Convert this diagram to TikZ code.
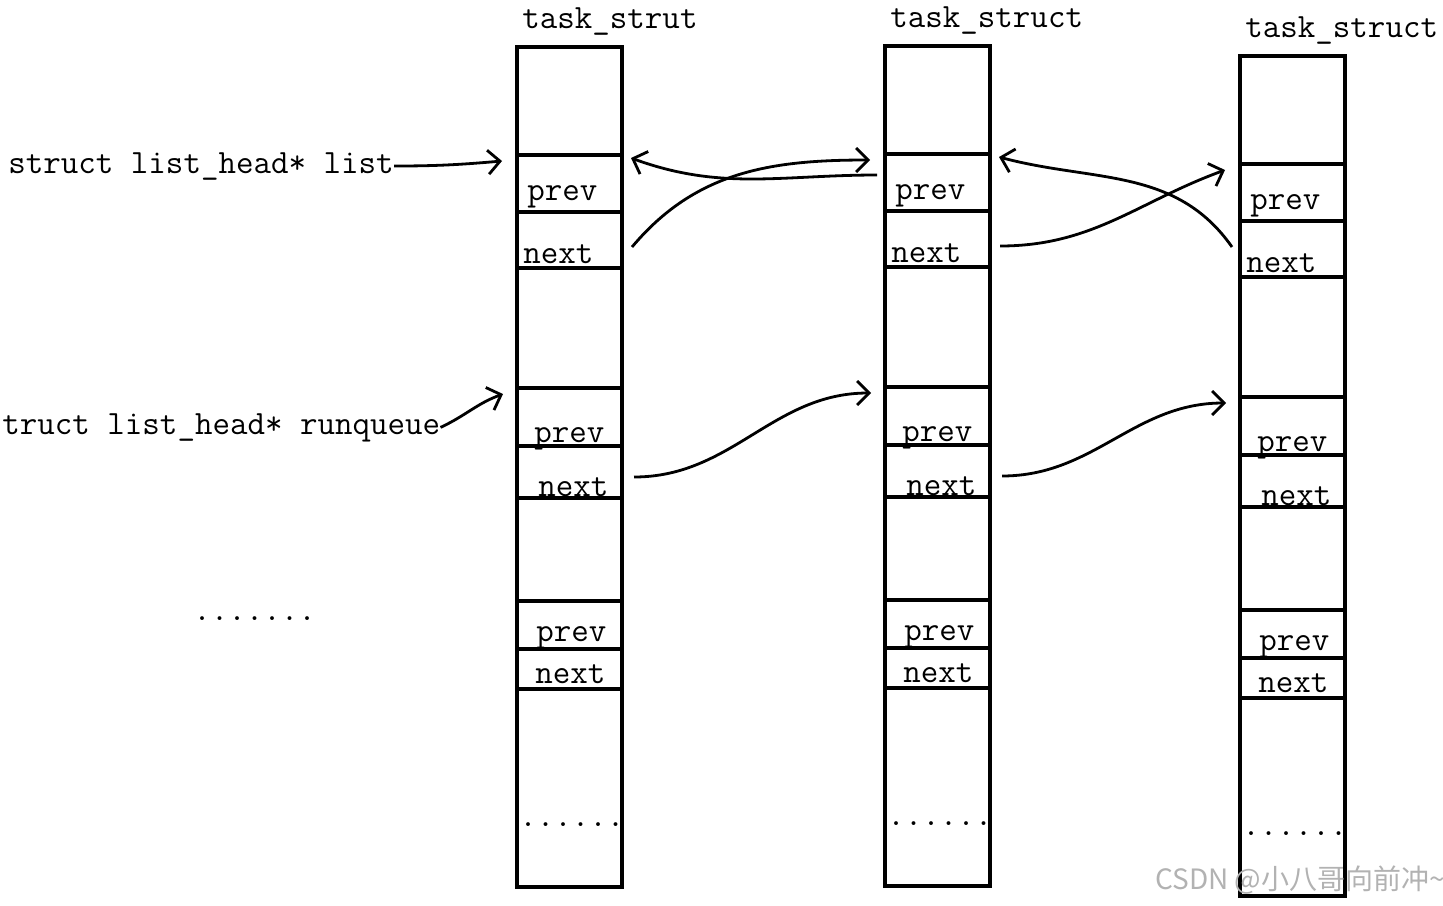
\documentclass[tikz,border=0pt]{standalone}
\usepackage{fontspec}
\newfontfamily\cjkfont{Noto Sans CJK SC}
\usetikzlibrary{arrows.meta, positioning, calc}

\begin{document}
\begin{tikzpicture}[x=0.5pt, y=-0.5pt,
    lbl/.style={font=\ttfamily\fontsize{17}{20}\selectfont, inner sep=0pt, anchor=base west},
    cell/.style={line width=2.3pt},
    link/.style={line width=1.4pt, -{Straight Barb[length=6pt,width=12pt]}}]
    \useasboundingbox (0,0) rectangle (1443,905);

    % Columns
    \foreach \c/\x/\y/\ttl in {a/517/47/task\_strut, b/885/46/task\_struct, c/1240/56/task\_struct} {
      \begin{scope}[shift={(\x,\y)}]
        \draw[cell] (0,0) rectangle (105,840);
        \foreach \h in {108,165,221,341,399,451,554,602,642}
          \draw[cell] (0,\h) -- (105,\h);
        \node[lbl] (\c-title) at (5,-19) {\ttl};
        \node[lbl] (\c-prev1) at (10,153) {prev};
        \node[lbl] (\c-next1) at (6,216) {next};
        \node[lbl] (\c-prev2) at (17,395) {prev};
        \node[lbl] (\c-next2) at (21,449) {next};
        \node[lbl] (\c-prev3) at (19,594) {prev};
        \node[lbl] (\c-next3) at (18,636) {next};
        \node[lbl] (\c-more) at (2,779) {......};
        % arrow ends
        \coordinate (\c-in1) at (-15,114);
        \coordinate (\c-out1) at (114,111);
        \coordinate (\c-in2) at (-14,347);
        \coordinate (\c-from1) at (115,200);
        \coordinate (\c-from2) at (117,430);
        \coordinate (\c-prevL) at (-8,129);
        \coordinate (\c-nextL) at (-8,191);
      \end{scope}
    }

    % Labels
    \node[lbl] (list) at (8,173) {struct list\_head* list};
    \node[lbl] (rq) at (2,434) {truct list\_head* runqueue};
    \node[lbl] (etc) at (193,620) {.......};

    % Links
    \draw[link] (list.east) to[out=0,in=185] (a-in1);
    \draw[link] (rq.east) to[out=25,in=200] (a-in2);
    \draw[link] (a-from1) to[out=50,in=180] (b-in1);
    \draw[link] (b-prevL) to[out=180,in=-20] (a-out1);
    \draw[link] (b-from1) to[out=0,in=200] (c-in1);
    \draw[link] (c-nextL) to[out=125,in=-15] (b-out1);
    \draw[link] (a-from2) to[out=0,in=180] (b-in2);
    \draw[link] (b-from2) to[out=0,in=180] (c-in2);

    \node[font=\cjkfont\fontsize{14}{17}\selectfont, text=black!30, anchor=base west, inner sep=0pt] (mark) at (1155,889) {CSDN @小八哥向前冲\textasciitilde};
\end{tikzpicture}
\end{document}
